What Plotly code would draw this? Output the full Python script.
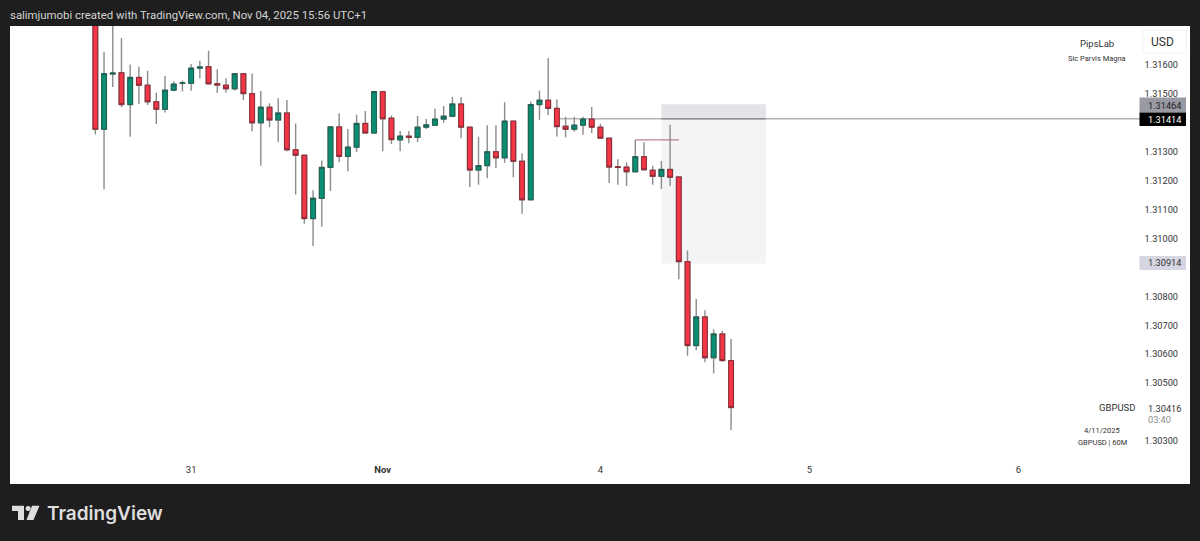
import plotly.graph_objects as go

# ------------------------------------------------------------
# Data : GBPUSD 60M candles
# ------------------------------------------------------------
opens = [1.31773, 1.31378, 1.31569, 1.31573, 1.31463, 1.31557, 1.31530, 1.31473, 1.31447, 1.31513,
         1.31537, 1.31537, 1.31589, 1.31594, 1.31535, 1.31530, 1.31518, 1.31570, 1.31501, 1.31400,
         1.31454, 1.31410, 1.31434, 1.31307, 1.31288, 1.31069, 1.31139, 1.31246, 1.31386, 1.31284,
         1.31316, 1.31398, 1.31365, 1.31508, 1.31416, 1.31341, 1.31354, 1.31350, 1.31385, 1.31392,
         1.31413, 1.31423, 1.31465, 1.31385, 1.31237, 1.31252, 1.31300, 1.31279, 1.31406, 1.31267,
         1.31134, 1.31463, 1.31478, 1.31450, 1.31388, 1.31378, 1.31392, 1.31413, 1.31385, 1.31347,
         1.31248, 1.31247, 1.31231, 1.31283, 1.31236, 1.31215, 1.31239, 1.31213, 1.30920, 1.30630,
         1.30729, 1.30588, 1.30670, 1.30578]
closes = [1.31378, 1.31570, 1.31572, 1.31463, 1.31557, 1.31530, 1.31473, 1.31447, 1.31513, 1.31534,
          1.31538, 1.31589, 1.31593, 1.31535, 1.31531, 1.31518, 1.31570, 1.31501, 1.31400, 1.31454,
          1.31410, 1.31434, 1.31307, 1.31288, 1.31069, 1.31139, 1.31246, 1.31386, 1.31284, 1.31316,
          1.31398, 1.31365, 1.31508, 1.31414, 1.31342, 1.31354, 1.31350, 1.31385, 1.31393, 1.31413,
          1.31423, 1.31465, 1.31385, 1.31237, 1.31252, 1.31300, 1.31279, 1.31406, 1.31267, 1.31134,
          1.31463, 1.31478, 1.31450, 1.31387, 1.31378, 1.31392, 1.31413, 1.31385, 1.31347, 1.31247,
          1.31246, 1.31231, 1.31283, 1.31238, 1.31215, 1.31239, 1.31212, 1.30920, 1.30630, 1.30729,
          1.30588, 1.30670, 1.30578, 1.30416]
highs = [1.31790, 1.31646, 1.31756, 1.31693, 1.31602, 1.31594, 1.31580, 1.31504, 1.31562, 1.31544,
         1.31546, 1.31603, 1.31615, 1.31649, 1.31585, 1.31554, 1.31572, 1.31570, 1.31571, 1.31510,
         1.31468, 1.31485, 1.31479, 1.31398, 1.31288, 1.31167, 1.31270, 1.31386, 1.31433, 1.31379,
         1.31428, 1.31441, 1.31511, 1.31508, 1.31425, 1.31372, 1.31372, 1.31424, 1.31413, 1.31449,
         1.31458, 1.31490, 1.31489, 1.31385, 1.31352, 1.31392, 1.31392, 1.31471, 1.31406, 1.31295,
         1.31473, 1.31511, 1.31624, 1.31481, 1.31421, 1.31421, 1.31421, 1.31455, 1.31397, 1.31347,
         1.31274, 1.31264, 1.31341, 1.31333, 1.31252, 1.31268, 1.31393, 1.31213, 1.30959, 1.30791,
         1.30752, 1.30686, 1.30681, 1.30653]
lows = [1.31360, 1.31170, 1.31524, 1.31454, 1.31352, 1.31465, 1.31462, 1.31396, 1.31436, 1.31509,
        1.31508, 1.31511, 1.31553, 1.31532, 1.31503, 1.31504, 1.31512, 1.31479, 1.31371, 1.31252,
        1.31385, 1.31333, 1.31302, 1.31152, 1.31051, 1.30974, 1.31041, 1.31164, 1.31264, 1.31233,
        1.31299, 1.31361, 1.31365, 1.31302, 1.31327, 1.31302, 1.31329, 1.31334, 1.31379, 1.31389,
        1.31400, 1.31419, 1.31347, 1.31178, 1.31186, 1.31208, 1.31244, 1.31262, 1.31212, 1.31086,
        1.31134, 1.31411, 1.31427, 1.31353, 1.31349, 1.31369, 1.31359, 1.31365, 1.31347, 1.31192,
        1.31186, 1.31182, 1.31231, 1.31238, 1.31186, 1.31171, 1.31182, 1.30859, 1.30595, 1.30614,
        1.30572, 1.30533, 1.30574, 1.30337]
bars = list(range(len(opens)))

price_ticks = [1.316, 1.315, 1.313, 1.312, 1.311, 1.310, 1.308, 1.307, 1.306, 1.305, 1.303]
time_ticks = [11, 33, 58, 82, 106]
time_labels = ["31", "<b>Nov</b>", "4", "5", "6"]

# position tool
tp_price = 1.31464
entry_price = 1.31414
sl_price = 1.30914
last_price = 1.30416
tool_start, tool_end = 65, 77
entry_line_start = 53.3
marker_price = 1.31341
marker_start, marker_end = 62, 67


# ------------------------------------------------------------
# Page coordinates -> paper (margins are 0, 1200x541 page)
# ------------------------------------------------------------
def px(x):
    return x / 1200


def py(y):
    return 1 - y / 541


def label(text, x, y, size, color="#333333", anchor="center", family="Roboto", weight=None):
    return dict(text=text, x=px(x), y=py(y), xref="paper", yref="paper", showarrow=False,
                xanchor=anchor, yanchor="middle",
                font=dict(family=family, size=size, color=color, weight=weight))


def box(x0, y0, x1, y1, fill, line="rgba(0,0,0,0)"):
    return dict(type="rect", xref="paper", yref="paper", x0=px(x0), x1=px(x1), y0=py(y0), y1=py(y1),
                fillcolor=fill, line=dict(color=line, width=1), layer="above")


def poly(points, fill):
    path = "M " + " L ".join(f"{px(a):.5f},{py(b):.5f}" for a, b in points) + " Z"
    return dict(type="path", xref="paper", yref="paper", path=path, fillcolor=fill, line=dict(width=0))


fig = go.Figure()

# wicks in grey
fig.add_trace(go.Candlestick(
    x=bars, open=opens, high=highs, low=lows, close=closes,
    increasing=dict(line=dict(color="#8c8c8c", width=1.4), fillcolor="#8c8c8c"),
    decreasing=dict(line=dict(color="#8c8c8c", width=1.4), fillcolor="#8c8c8c"),
    hoverinfo="skip", showlegend=False,
))
# bodies on top, no wick
fig.add_trace(go.Candlestick(
    x=bars, open=opens, close=closes,
    high=[max(o, c) for o, c in zip(opens, closes)],
    low=[min(o, c) for o, c in zip(opens, closes)],
    increasing=dict(line=dict(color="#1c5f50", width=1), fillcolor="#0b8f74"),
    decreasing=dict(line=dict(color="#8e2a36", width=1), fillcolor="#f23645"),
    hoverinfo="skip", showlegend=False,
))

shapes = [
    dict(type="rect", x0=tool_start, x1=tool_end, y0=entry_price, y1=tp_price,
         fillcolor="#e4e4e8", line=dict(width=0), layer="below"),
    dict(type="rect", x0=tool_start, x1=tool_end, y0=sl_price, y1=entry_price,
         fillcolor="#f4f4f7", line=dict(width=0), layer="below"),
    dict(type="line", x0=entry_line_start, x1=124.2, y0=entry_price, y1=entry_price,
         line=dict(color="#b4b4b4", width=1.5), layer="below"),
    dict(type="line", x0=tool_start, x1=tool_end, y0=entry_price, y1=entry_price,
         line=dict(color="#909090", width=1.5), layer="below"),
    dict(type="line", x0=marker_start, x1=marker_end, y0=marker_price, y1=marker_price,
         line=dict(color="#a8686e", width=1)),
    # price scale boxes
    box(1139.5, 97.5, 1186, 112.5, "#9a9aa4"),
    box(1139.5, 112.5, 1186, 126, "#000000"),
    box(1139.5, 256, 1186, 270, "#d6d6e2"),
    dict(type="rect", xref="paper", yref="paper", x0=px(1143), x1=px(1186.5), y0=py(30), y1=py(53),
         fillcolor="#ffffff", line=dict(color="#f1f1f1", width=1)),
    # TradingView logo
    poly([(12, 505.7), (24, 505.7), (24, 520), (18, 520), (18, 511), (12, 511)], "#dedede"),
    dict(type="circle", xref="paper", yref="paper", x0=px(25.6), x1=px(30.6), y0=py(511), y1=py(506),
         fillcolor="#dedede", line=dict(width=0)),
    poly([(32, 505.7), (39.5, 505.7), (33.5, 520), (26.5, 520)], "#dedede"),
]

annotations = [
    label("salimjumobi created with TradingView.com, Nov 04, 2025 15:56 UTC+1", 8, 15, 11.4,
          color="#d4d4d4", anchor="left"),
    label("TradingView", 45, 513, 19, color="#dedede", anchor="left", family="Inter", weight=600),
    label("USD", 1162, 42, 12, color="#333333"),
    label("PipsLab", 1097, 43, 9.5),
    label("Sic Parvis Magna", 1097, 58, 7.5),
    label(f"{tp_price:.5f}", 1164, 105, 9.2, color="#222222"),
    label(f"{entry_price:.5f}", 1164, 119, 9.2, color="#ffffff"),
    label(f"{sl_price:.5f}", 1164, 263, 9.2, color="#333333"),
    label("GBPUSD", 1117, 407, 9.5),
    label(f"{last_price:.5f}", 1164, 408, 9.2),
    label("03:40", 1159, 419, 9.2, color="#8a8a8a"),
    label("4/11/2025", 1102, 430, 7.5),
    label("GBPUSD | 60M", 1102, 442, 7.5),
]

fig.update_layout(
    width=1200, height=541, autosize=False,
    margin=dict(l=0, r=0, t=0, b=0),
    paper_bgcolor="#1e1e1e", plot_bgcolor="#ffffff",
    showlegend=False, hovermode=False, boxgap=0.22,
    shapes=shapes, annotations=annotations,
    xaxis=dict(
        domain=[10 / 1200, 1190 / 1200], range=[-9.8, 125.7],
        rangeslider=dict(visible=False), showgrid=False, zeroline=False, showline=False,
        tickmode="array", tickvals=time_ticks, ticktext=time_labels,
        ticks="", ticklabelposition="inside", ticklabelstandoff=6,
        tickfont=dict(family="Roboto", size=9.5, color="#333333"),
    ),
    yaxis=dict(
        domain=[1 - 484 / 541, 1 - 26 / 541], range=[1.301513, 1.317348], side="right",
        showgrid=False, zeroline=False, showline=False,
        tickmode="array", tickvals=price_ticks, tickformat=".5f",
        ticks="", ticklabelposition="inside", ticklabelstandoff=9,
        tickfont=dict(family="Roboto", size=9.2, color="#333333"),
    ),
)

# the browser's default body margin would shift the page by 8px
fig.write_html("out.html", config={"displayModeBar": False},
               post_script="document.body.style.margin='0';document.body.style.background='#1e1e1e';")
